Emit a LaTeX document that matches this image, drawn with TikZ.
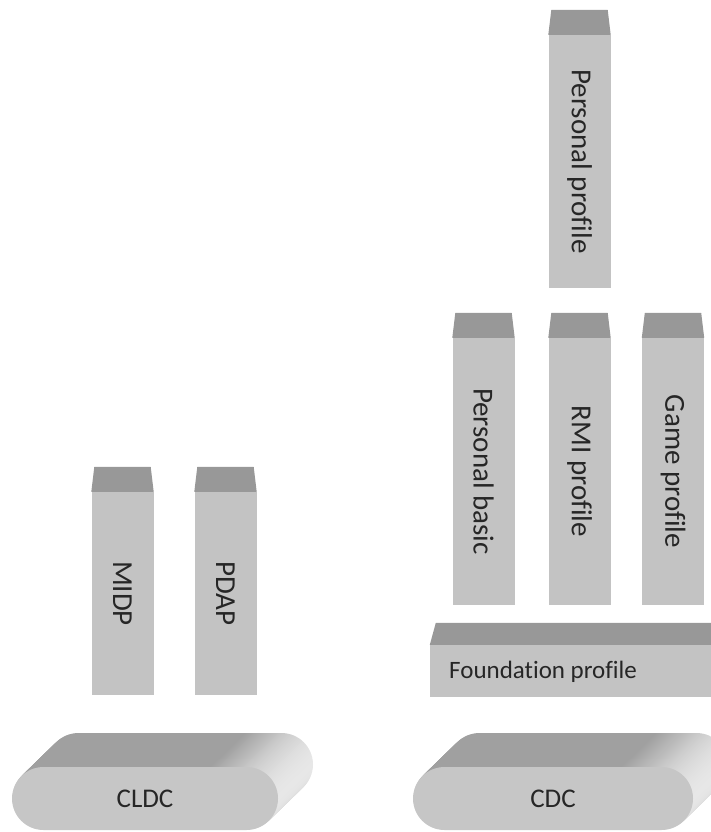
\documentclass[tikz,border=0pt]{standalone}
\usepackage{fontspec}
\usepackage{graphicx}
\setmainfont{Carlito}[Ligatures=NoCommon]
\usetikzlibrary{shapes.misc}

\definecolor{bodygray}{RGB}{195,195,195}
\definecolor{capgray}{RGB}{152,152,152}
\definecolor{topgray}{RGB}{160,160,160}
\definecolor{endgray}{RGB}{232,232,232}
\definecolor{frontgray}{RGB}{198,198,198}
\pgfdeclarehorizontalshading{endcap}{100bp}{color(0bp)=(topgray); color(62bp)=(topgray); color(75bp)=(endgray); color(100bp)=(endgray)}

\begin{document}
\begin{tikzpicture}[x=1pt,y=-1pt]
 \tikzset{col/.style = {fill=bodygray, inner sep=0pt, minimum width=62pt, text=black!85, font=\fontsize{29}{32}\selectfont}}
 \tikzset{captop/.style = {fill=capgray}}
 \tikzset{base/.style = {rounded rectangle, fill=frontgray, inner sep=0pt, minimum height=63pt, text=black!85, font=\fontsize{27}{30}\selectfont}}
 \tikzset{sweep/.style = {rounded rectangle, shading=endcap, inner sep=0pt, minimum height=63pt}}
 \def\caph{25pt}
 \def\capin{3pt}

 \useasboundingbox (0,0) rectangle (711,832);

 % left stack
 \node[col, minimum height=203pt] (midp) at (122.5,593.5) {\rotatebox{-90}{MIDP}};
 \node[col, minimum height=203pt] (pdap) at (225.5,593.5) {\rotatebox{-90}{PDAP}};

 % right stack
 \node[col, minimum height=267pt] (pbasic) at (483.5,471.5) {\rotatebox{-90}{Personal basic}};
 \node[col, minimum height=267pt] (rmi)    at (579.5,471.5) {\rotatebox{-90}{RMI profile}};
 \node[col, minimum height=267pt] (game)   at (673,471.5)   {\rotatebox{-90}{Game profile}};
 \node[col, minimum height=253pt] (pprof)  at (579.5,161.5) {\rotatebox{-90}{Personal profile}};

 \foreach \c in {midp,pdap,pbasic,rmi,game,pprof}
  \fill[captop] (\c.north west) -- ([xshift=\capin,yshift=\caph]\c.north west)
   -- ([xshift=-\capin,yshift=\caph]\c.north east) -- (\c.north east) -- cycle;

 \node[fill=bodygray, inner sep=0pt, minimum width=290pt, minimum height=52pt] (found) at (575,671) {};
 \fill[captop] (found.north west) -- ([xshift=6pt,yshift=22pt]found.north west)
  -- ([yshift=22pt]found.north east) -- (found.north east) -- cycle;
 \node[anchor=west, inner sep=0pt, text=black!85, font=\fontsize{25}{28}\selectfont] (foundlbl) at (449,672) {Foundation profile};

 % configurations
 \coordinate (cldcpos) at (145,798.5);
 \coordinate (cdcpos) at (553,798.5);
 \foreach \i in {35,34,...,1} {
  \node[sweep, minimum width=266pt] at ([shift={(\i,-\i*34/35)}]cldcpos) {};
  \node[sweep, minimum width=280pt] at ([shift={(\i,-\i*34/35)}]cdcpos) {};
 }
 \node[base, minimum width=266pt] (cldc) at (cldcpos) {CLDC};
 \node[base, minimum width=280pt] (cdc) at (cdcpos) {CDC};

\end{tikzpicture}
\end{document}
